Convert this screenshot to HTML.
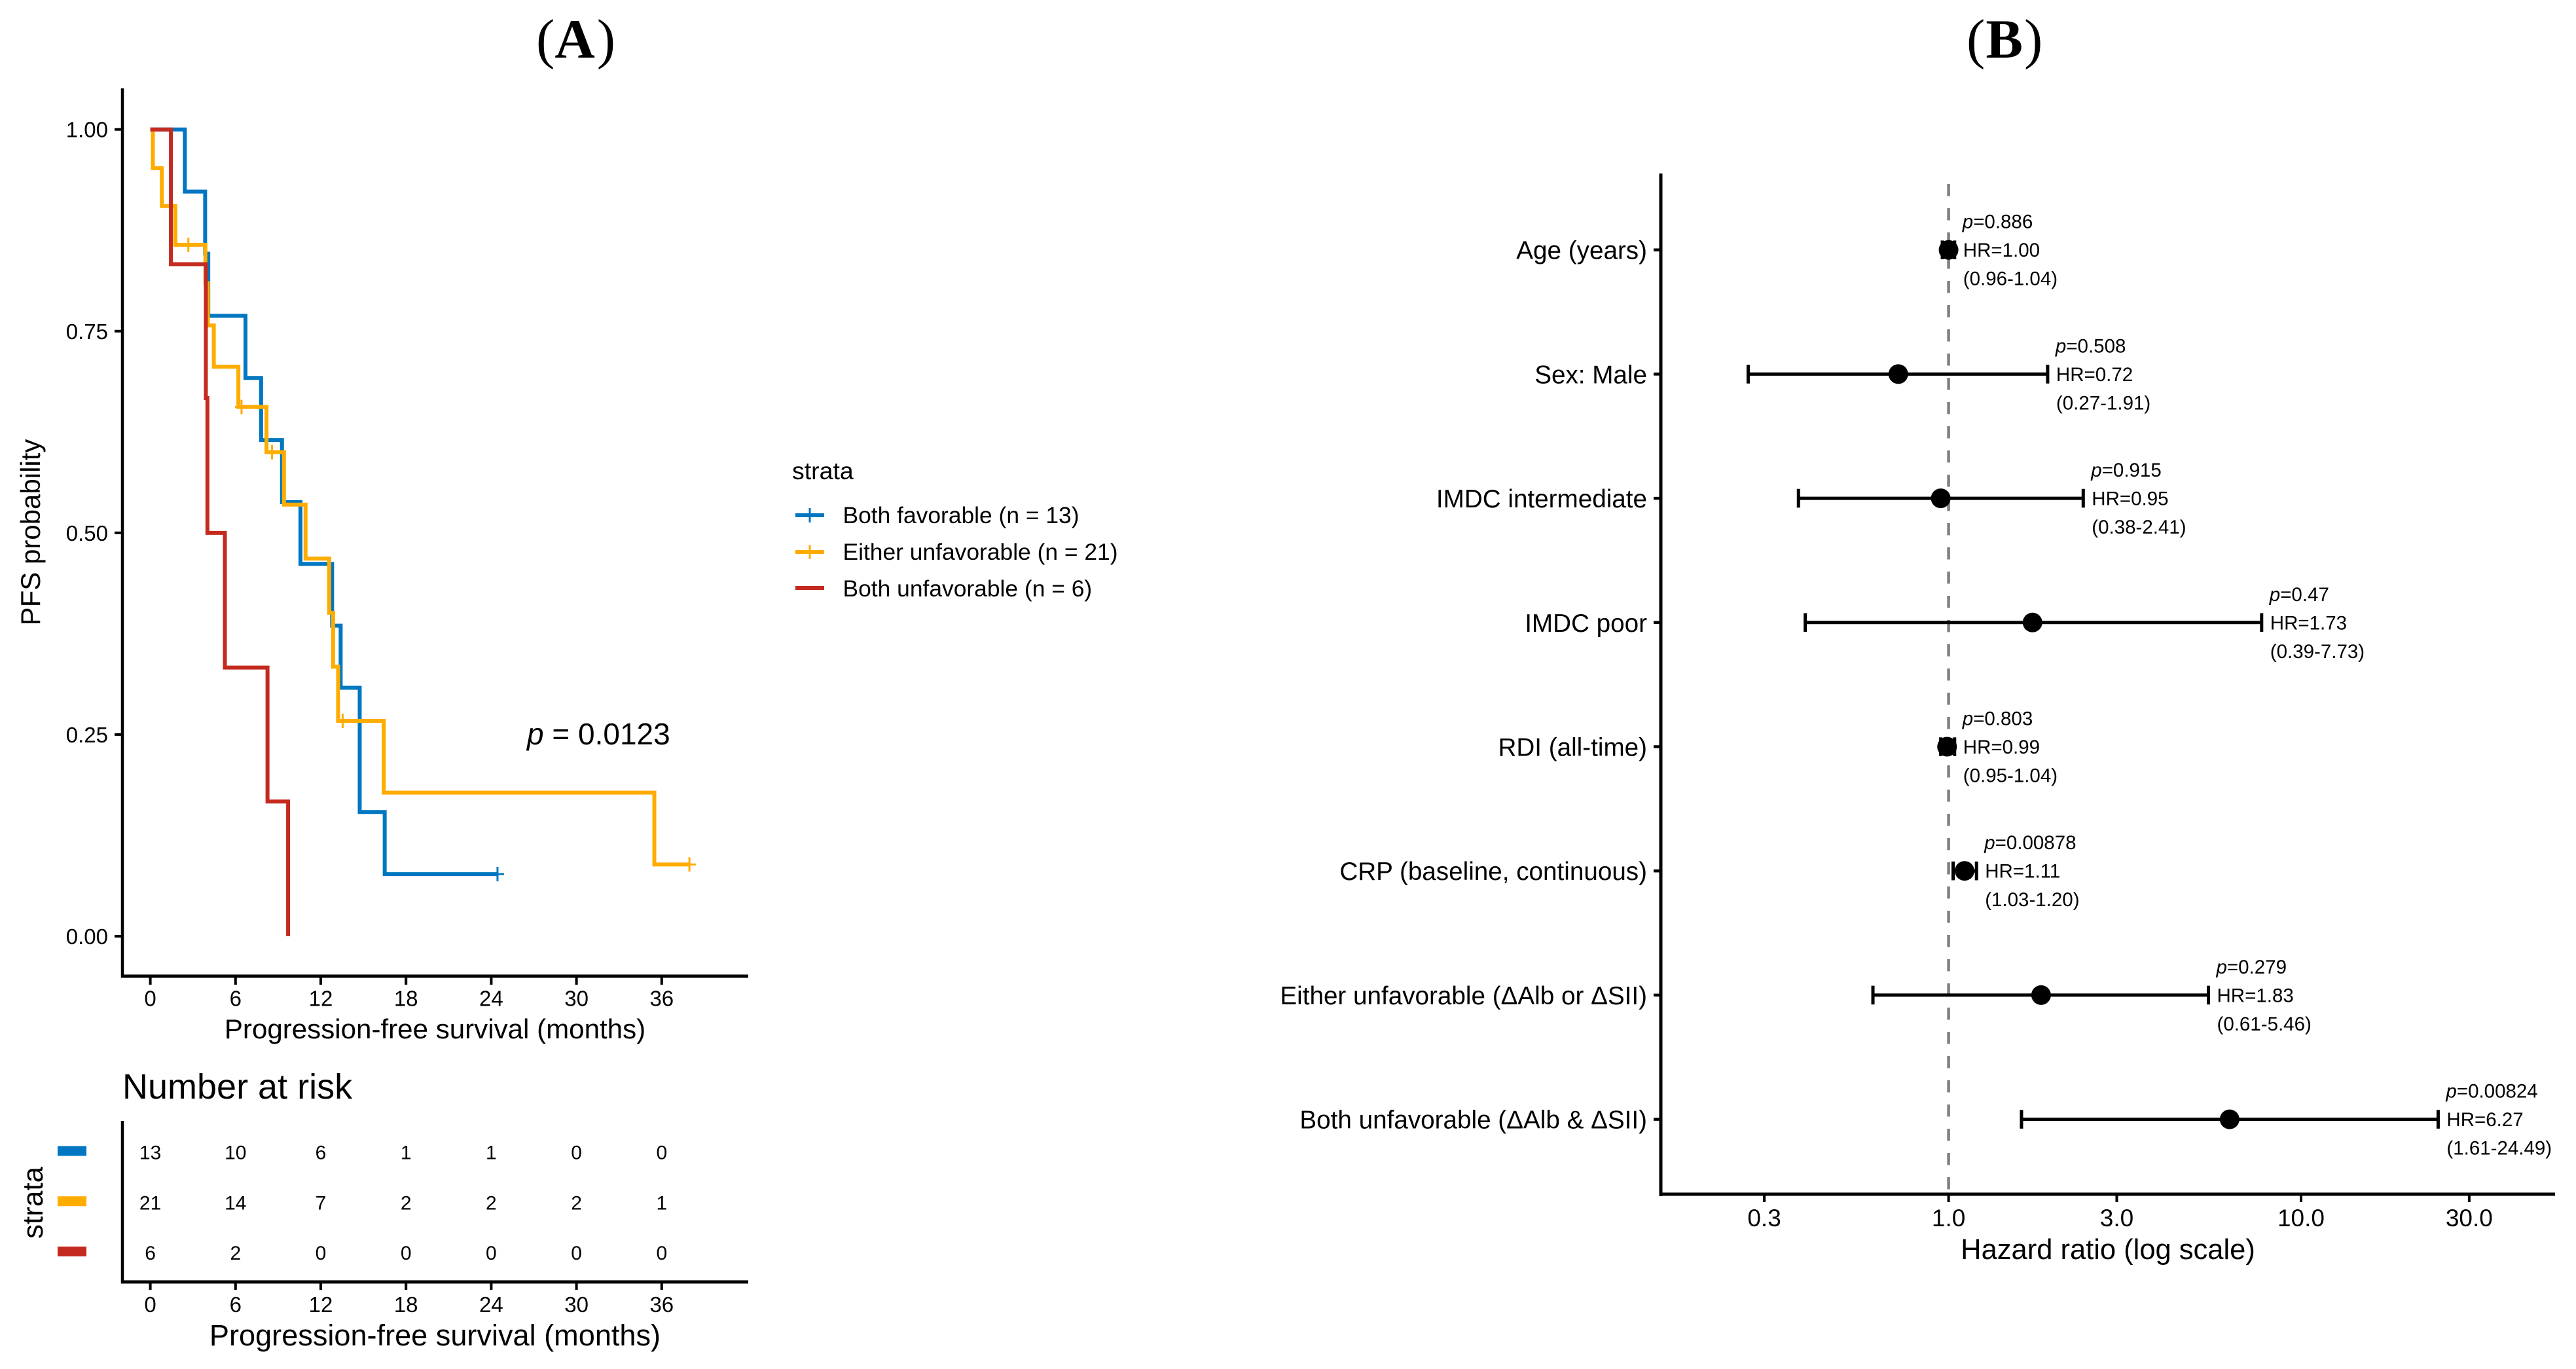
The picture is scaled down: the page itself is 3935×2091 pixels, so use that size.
<!DOCTYPE html>
<html lang="en">
<head>
<meta charset="utf-8">
<title>Progression-free survival and hazard ratio forest plot</title>
<style>
html,body{margin:0;padding:0;background:#fff;}
svg{display:block;font-family:"Liberation Sans",Arial,sans-serif;fill:#000;}
.serif{font-family:"Liberation Serif","Times New Roman",serif;}
</style>
</head>
<body>
<svg id="figure" xmlns="http://www.w3.org/2000/svg" width="3935" height="2091" viewBox="0 0 3935 2091">
  <rect x="0" y="0" width="3935" height="2091" fill="#ffffff"/>

  <text class="serif" x="819" y="88" font-size="85">(<tspan font-weight="bold">A</tspan><tspan dx="3">)</tspan></text>
  <text class="serif" x="3004" y="88" font-size="85">(<tspan font-weight="bold" dx="1">B</tspan><tspan dx="2">)</tspan></text>

  <g id="km-panel">
    <line x1="187" y1="135" x2="187" y2="1493" stroke="#000" stroke-width="4.5"/>
    <line x1="185" y1="1491" x2="1143" y2="1491" stroke="#000" stroke-width="5"/>
    <text transform="translate(61,813) rotate(-90)" font-size="42" text-anchor="middle">PFS probability</text>
    <text x="664.5" y="1586" font-size="42.1" text-anchor="middle">Progression-free survival (months)</text>
    <text x="805" y="1137" font-size="46"><tspan font-style="italic">p</tspan> = 0.0123</text>
  </g>

  <g id="legend">
    <text x="1210" y="732" font-size="37.5">strata</text>
    <g>
      <line x1="1215" y1="787" x2="1259" y2="787" stroke="#0077C0" stroke-width="6"/>
      <line x1="1237" y1="776" x2="1237" y2="798" stroke="#0077C0" stroke-width="3"/>
      <text x="1287.5" y="799" font-size="35.4">Both favorable (n = 13)</text>
    </g>
    <g>
      <line x1="1215" y1="843" x2="1259" y2="843" stroke="#FFAC00" stroke-width="6"/>
      <line x1="1237" y1="832" x2="1237" y2="854" stroke="#FFAC00" stroke-width="3"/>
      <text x="1287.5" y="855" font-size="35.4">Either unfavorable (n = 21)</text>
    </g>
    <g>
      <line x1="1215" y1="898" x2="1259" y2="898" stroke="#C42A1F" stroke-width="6"/>
      <text x="1287.5" y="911" font-size="35.4">Both unfavorable (n = 6)</text>
    </g>
  </g>

  <g id="risk-panel">
    <text x="187" y="1678" font-size="54">Number at risk</text>
    <line x1="187" y1="1712" x2="187" y2="1960" stroke="#000" stroke-width="4.5"/>
    <line x1="185" y1="1958" x2="1143" y2="1958" stroke="#000" stroke-width="5"/>
    <text transform="translate(65,1837) rotate(-90)" font-size="44" text-anchor="middle">strata</text>
    <text x="664.5" y="2055" font-size="45.1" text-anchor="middle">Progression-free survival (months)</text>
  </g>

  <g id="forest-panel">
    <text x="3220" y="1923" font-size="43.5" text-anchor="middle">Hazard ratio (log scale)</text>
  </g>
</svg>

<script>
const timeTicks = [0, 6, 12, 18, 24, 30, 36];
const survivalTicks = [1, 0.75, 0.5, 0.25, 0];
const survivalTickLabels = ['1.00', '0.75', '0.50', '0.25', '0.00'];

const blueTimes = [2.43, 3.86, 4.08, 6.7, 7.8, 9.27, 10.57, 12.8, 13.4, 14.74, 16.5];
const blueSurvival = [0.923, 0.846, 0.769, 0.692, 0.615, 0.538, 0.4615, 0.385, 0.308, 0.154, 0.077];
const blueCensored = [24.44];

const orangeTimes = [0.18, 0.81, 1.76, 3.88, 4.05, 4.47, 6.2, 8.18, 9.41, 10.93, 12.59, 12.87, 13.22, 16.43, 35.48];
const orangeSurvival = [0.952, 0.905, 0.857, 0.8095, 0.757, 0.706, 0.656, 0.6, 0.535, 0.468, 0.401, 0.334, 0.267, 0.178, 0.089];
const orangeCensored = [2.68, 6.42, 8.57, 13.54, 37.95];

const redTimes = [1.45, 3.91, 4.02, 5.25, 8.25, 9.7];
const redSurvival = [0.833, 0.667, 0.5, 0.333, 0.167, 0];
const redCensored = [];

const riskBlue = [13, 10, 6, 1, 1, 0, 0];
const riskOrange = [21, 14, 7, 2, 2, 2, 1];
const riskRed = [6, 2, 0, 0, 0, 0, 0];

const forestLabels = ['Age (years)', 'Sex: Male', 'IMDC intermediate', 'IMDC poor', 'RDI (all-time)', 'CRP (baseline, continuous)', 'Either unfavorable (\u0394Alb or \u0394SII)', 'Both unfavorable (\u0394Alb & \u0394SII)'];
const forestHR = [1.00, 0.72, 0.95, 1.73, 0.99, 1.11, 1.83, 6.27];
const forestLow = [0.96, 0.27, 0.375, 0.392, 0.95, 1.03, 0.61, 1.61];
const forestHigh = [1.04, 1.91, 2.41, 7.73, 1.04, 1.20, 5.46, 24.49];
const forestP = ['0.886', '0.508', '0.915', '0.47', '0.803', '0.00878', '0.279', '0.00824'];
const forestTicks = [0.3, 1, 3, 10, 30];
const forestTickLabels = ['0.3', '1.0', '3.0', '10.0', '30.0'];

const SVG_NS = 'http://www.w3.org/2000/svg';
const kmPanel = document.getElementById('km-panel');
const riskPanel = document.getElementById('risk-panel');
const forestPanel = document.getElementById('forest-panel');

function xTime(t) { return 229.6 + t * 21.7; }
function ySurv(s) { return 1430 - s * 1232.3; }
function xHazard(v) { return 2976.6 + Math.log10(v) * 538.4; }
function yForest(i) { return 381.7 + i * 189.7; }
function yRisk(i) { return 1758 + i * 76.75; }

function shape(parent, tag, props) {
  const node = document.createElementNS(SVG_NS, tag);
  Object.keys(props).forEach(function (k) { node.setAttribute(k, props[k]); });
  parent.appendChild(node);
  return node;
}

function label(parent, x, y, str, size, anchor) {
  const node = shape(parent, 'text', { x: x, y: y, 'font-size': size, 'text-anchor': anchor });
  node.textContent = str;
  return node;
}

function survivalAt(t, times, values) {
  let s = 1;
  times.forEach(function (et, i) { if (et <= t) { s = values[i]; } });
  return s;
}

function drawCurve(name, colour, times, values, censored) {
  const group = shape(kmPanel, 'g', {});
  
  
  let d = 'M' + xTime(0) + ' ' + ySurv(1);
  times.forEach(function (t, i) {
    d += 'H' + xTime(t) + 'V' + ySurv(values[i]);
  });
  if (censored.length) {
    const last = Math.max.apply(null, censored);
    if (last > times[times.length - 1]) { d += 'H' + xTime(last); }
  }
  const path = shape(group, 'path', { d: d, fill: 'none', stroke: colour, 'stroke-width': 6, 'stroke-linejoin': 'miter' });
  
  
  censored.forEach(function (t) {
    const cx = xTime(t);
    const cy = ySurv(survivalAt(t, times, values));
    const mark = shape(group, 'path', { d: 'M' + (cx - 10) + ' ' + cy + 'H' + (cx + 10) + 'M' + cx + ' ' + (cy - 11) + 'V' + (cy + 11), fill: 'none', stroke: colour, 'stroke-width': 3 });
    
    
  });
}

survivalTicks.forEach(function (v, i) {
  const tick = shape(kmPanel, 'line', { x1: 175, x2: 187, y1: ySurv(v), y2: ySurv(v), stroke: '#000', 'stroke-width': 4 });
  
  
  const text = label(kmPanel, 165, ySurv(v) + 12, survivalTickLabels[i], 33, 'end');
  
  
});

timeTicks.forEach(function (t) {
  const tick = shape(kmPanel, 'line', { x1: xTime(t), x2: xTime(t), y1: 1491, y2: 1504, stroke: '#000', 'stroke-width': 4 });
  
  
  const text = label(kmPanel, xTime(t), 1536.5, String(t), 33, 'middle');
  
  
});

drawCurve('km-curve-both-favorable', '#0077C0', blueTimes, blueSurvival, blueCensored);
drawCurve('km-curve-either-unfavorable', '#FFAC00', orangeTimes, orangeSurvival, orangeCensored);
drawCurve('km-curve-both-unfavorable', '#C42A1F', redTimes, redSurvival, redCensored);

function drawRiskRow(name, colour, counts, rowIndex) {
  const key = shape(riskPanel, 'rect', { x: 88, y: yRisk(rowIndex) - 7.5, width: 44, height: 15, fill: colour });
  
  
  counts.forEach(function (n, i) {
    const text = label(riskPanel, xTime(timeTicks[i]), yRisk(rowIndex) + 12.5, String(n), 30, 'middle');
    
    
  });
}

drawRiskRow('risk-row-both-favorable', '#0077C0', riskBlue, 0);
drawRiskRow('risk-row-either-unfavorable', '#FFAC00', riskOrange, 1);
drawRiskRow('risk-row-both-unfavorable', '#C42A1F', riskRed, 2);

timeTicks.forEach(function (t) {
  const tick = shape(riskPanel, 'line', { x1: xTime(t), x2: xTime(t), y1: 1958, y2: 1970, stroke: '#000', 'stroke-width': 4 });
  
  
  const text = label(riskPanel, xTime(t), 2004, String(t), 33, 'middle');
  
  
});

const refLine = shape(forestPanel, 'line', { x1: xHazard(1), x2: xHazard(1), y1: 281, y2: 1824, stroke: '#808080', 'stroke-width': 4.5, 'stroke-dasharray': '18.5 18.5' });



const forestYAxis = shape(forestPanel, 'line', { x1: 2537, x2: 2537, y1: 265, y2: 1827, stroke: '#000', 'stroke-width': 5 });



const forestXAxis = shape(forestPanel, 'line', { x1: 2535, x2: 3903, y1: 1824, y2: 1824, stroke: '#000', 'stroke-width': 5 });



forestTicks.forEach(function (v, i) {
  const tick = shape(forestPanel, 'line', { x1: xHazard(v), x2: xHazard(v), y1: 1824, y2: 1836, stroke: '#000', 'stroke-width': 4 });
  
  
  const text = label(forestPanel, xHazard(v), 1873, forestTickLabels[i], 37, 'middle');
  
  
});

forestLabels.forEach(function (name, i) {
  const y = yForest(i);
  const tick = shape(forestPanel, 'line', { x1: 2526, x2: 2537, y1: y, y2: y, stroke: '#000', 'stroke-width': 4.5 });
  
  
  const rowLabel = label(forestPanel, 2516, y + 14, name, 38.65, 'end');
  
  

  const xLow = xHazard(forestLow[i]);
  const xHigh = xHazard(forestHigh[i]);
  const ci = shape(forestPanel, 'path', { d: 'M' + xLow + ' ' + y + 'H' + xHigh + 'M' + xLow + ' ' + (y - 14.3) + 'V' + (y + 14.3) + 'M' + xHigh + ' ' + (y - 14.3) + 'V' + (y + 14.3), fill: 'none', stroke: '#000', 'stroke-width': 5 });
  
  

  const dot = shape(forestPanel, 'circle', { cx: xHazard(forestHR[i]), cy: y, r: 15, fill: '#000' });
  
  

  const annoX = xHigh + 13;
  const pText = shape(forestPanel, 'text', { x: annoX - 1, y: y - 33, 'font-size': 29.5 });
  
  
  const pItalic = shape(pText, 'tspan', { 'font-style': 'italic' });
  pItalic.textContent = 'p';
  const pValue = shape(pText, 'tspan', {});
  pValue.textContent = '=' + forestP[i];

  const hrText = label(forestPanel, annoX, y + 10.5, 'HR=' + forestHR[i].toFixed(2), 29.5, 'start');
  
  

  const ciText = label(forestPanel, annoX, y + 54, '(' + forestLow[i].toFixed(2) + '-' + forestHigh[i].toFixed(2) + ')', 29.5, 'start');
  
  
});
</script>
</body>
</html>
